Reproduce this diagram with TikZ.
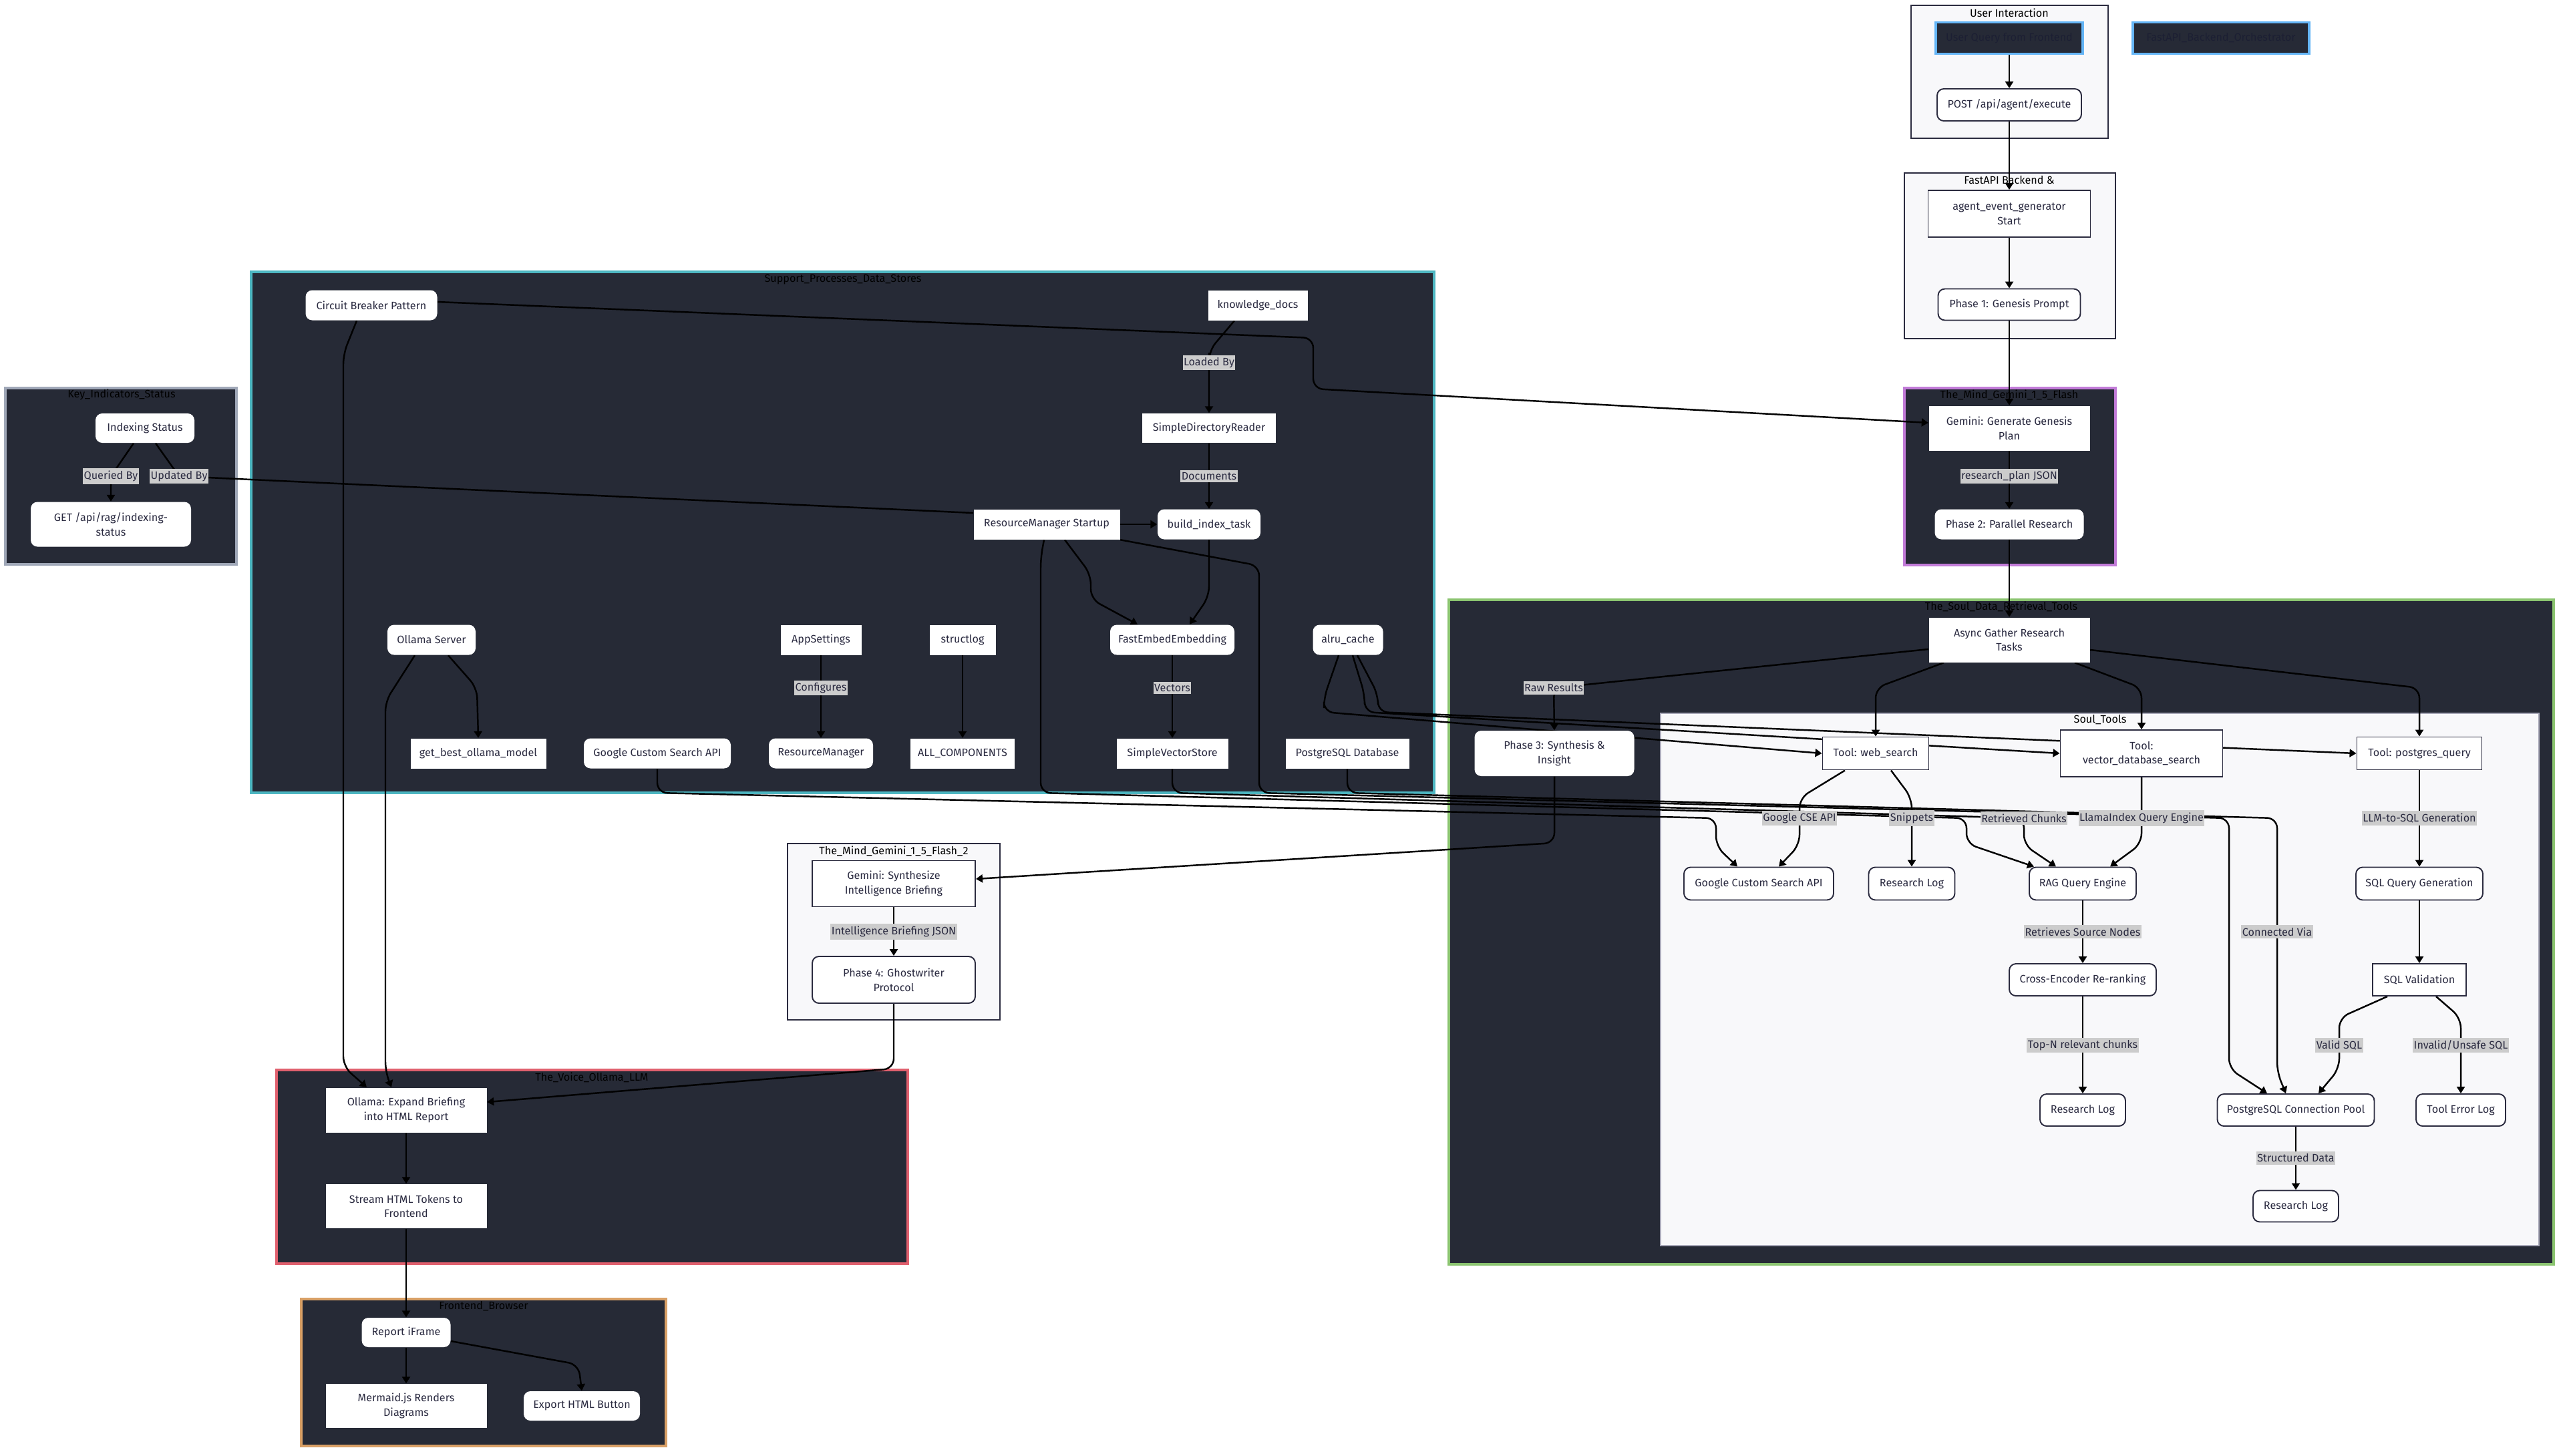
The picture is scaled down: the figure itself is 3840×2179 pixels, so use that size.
\documentclass[tikz,border=0pt]{standalone}
\usepackage{fontspec}
\setmainfont{Fira Sans}
\usetikzlibrary{arrows.meta}
\definecolor{darkbg}{HTML}{262A36}
\definecolor{lightbg}{HTML}{F8F8FA}
\definecolor{clborder}{HTML}{2B2B3F}
\definecolor{nodetext}{HTML}{2A2A40}
\definecolor{lblbg}{HTML}{CCCCCC}
\definecolor{tealb}{HTML}{4DB6C1}
\definecolor{purpleb}{HTML}{C27BD8}
\definecolor{greenb}{HTML}{8BC470}
\definecolor{redb}{HTML}{E0606E}
\definecolor{orangeb}{HTML}{D9A066}
\definecolor{grayb}{HTML}{A0A8B8}
\definecolor{blueb}{HTML}{64B5F6}
\definecolor{stborder}{HTML}{A8A8B8}
\definecolor{hiddentext}{HTML}{1C1F33}
\newcommand\nf{\fontsize{4.6}{6.2}\selectfont}
\pgfdeclarelayer{bg}
\pgfdeclarelayer{edges}
\pgfsetlayers{bg,edges,main}
\tikzset{
 nd/.style={font=\nf, text=nodetext, align=center, inner sep=0pt, fill=white, rectangle},
 sq/.style={nd},
 rd/.style={nd, rounded corners=1mm},
 bd/.style={draw=clborder, line width=0.55pt},
 lbl/.style={font=\nf, text=nodetext, fill=lblbg, inner xsep=0.15mm, inner ysep=0.35mm},
 edge/.style={draw=black, line width=0.7pt, rounded corners=1.5mm},
 arr/.style={edge, -{Triangle[length=1mm,width=1.2mm]}},
 ctitle/.style={font=\nf, text=black, inner sep=0pt},
 darkcl/.style={fill=darkbg, line width=0.9pt},
 lightcl/.style={fill=lightbg, draw=clborder, line width=0.6pt},
}
\begin{document}
\begin{tikzpicture}[x=0.1mm,y=-0.1mm]
\useasboundingbox (0,0) rectangle (3840,2179);
\begin{pgfonlayer}{bg}
\fill[white] (0,0) rectangle (3840,2179);
% clusters
\draw[lightcl] (2861,8) rectangle (3156,207);
\node[ctitle] (tUI) at (3008,19) {User Interaction};
\draw[lightcl] (2851,259) rectangle (3167,507);
\node[ctitle] (tFA) at (3008,270) {FastAPI Backend \&};
\draw[darkcl, draw=purpleb] (2851,581) rectangle (3167,846);
\node[ctitle] (tMind) at (3008,591) {The\_Mind\_Gemini\_1\_5\_Flash};
\draw[darkcl, draw=grayb] (8,581) rectangle (354,845);
\node[ctitle] (tKI) at (182,591) {Key\_Indicators\_Status};
\draw[darkcl, draw=tealb] (376,407) rectangle (2147,1187);
\node[ctitle] (tSup) at (1262,419) {Support\_Processes\_Data\_Stores};
\draw[darkcl, draw=greenb] (2169,898) rectangle (3823,1893);
\node[ctitle] (tSoul) at (2996,908) {The\_Soul\_Data\_Retrieval\_Tools};
\draw[fill=lightbg, draw=stborder, line width=0.6pt] (2486,1068) rectangle (3801,1865);
\node[ctitle] (tST) at (3144,1078) {Soul\_Tools};
\draw[lightcl] (1179,1263) rectangle (1497,1527);
\node[ctitle] (tMind2) at (1338,1274) {The\_Mind\_Gemini\_1\_5\_Flash\_2};
\draw[darkcl, draw=redb] (414,1602) rectangle (1359,1892);
\node[ctitle] (tVoice) at (886,1613) {The\_Voice\_Ollama\_LLM};
\draw[darkcl, draw=orangeb] (451,1945) rectangle (997,2165);
\node[ctitle] (tFE) at (724,1956) {Frontend\_Browser};
\end{pgfonlayer}

% ---- nodes: top column
\node[nd, fill=darkbg, draw=blueb, line width=0.9pt, text=hiddentext, minimum width=22mm, minimum height=4.7mm] (uq) at (3008,57) {User Query from Frontend};
\node[nd, fill=darkbg, draw=blueb, line width=0.9pt, text=hiddentext, minimum width=26.4mm, minimum height=4.7mm] (fo) at (3325,57) {FastAPI\_Backend\_Orchestrator};
\node[rd, bd, minimum width=21.6mm, minimum height=4.8mm] (post) at (3008,157) {POST /api/agent/execute};
\node[sq, bd, minimum width=24.3mm, minimum height=7mm] (agent) at (3008,320) {agent\_event\_generator\\Start};
\node[rd, bd, minimum width=21.3mm, minimum height=4.7mm] (p1) at (3008,456) {Phase 1: Genesis Prompt};
\node[sq, minimum width=24.1mm, minimum height=6.7mm] (ggen) at (3008,641) {Gemini: Generate Genesis\\Plan};
\node[rd, minimum width=22.3mm, minimum height=4.5mm] (p2) at (3008,785) {Phase 2: Parallel Research};
\node[sq, minimum width=24.1mm, minimum height=6.7mm] (async) at (3008,958) {Async Gather Research\\Tasks};
\node[rd, minimum width=23.9mm, minimum height=6.8mm] (p3) at (2327,1128) {Phase 3: Synthesis \&\\Insight};
% soul tools
\node[sq, bd, minimum width=15.9mm, minimum height=4.9mm] (web) at (2808,1128) {Tool: web\_search};
\node[sq, bd, minimum width=24.3mm, minimum height=7mm] (vec) at (3206,1128) {Tool:\\vector\_database\_search};
\node[sq, bd, minimum width=18.7mm, minimum height=4.9mm] (pgq) at (3622,1128) {Tool: postgres\_query};
\node[rd, bd, minimum width=22.4mm, minimum height=4.9mm] (gcs2) at (2633,1323) {Google Custom Search API};
\node[rd, bd, minimum width=12.9mm, minimum height=4.9mm] (rl1) at (2862,1323) {Research Log};
\node[rd, bd, minimum width=16mm, minimum height=4.9mm] (rag) at (3118,1323) {RAG Query Engine};
\node[rd, bd, minimum width=19mm, minimum height=4.9mm] (sqlg) at (3622,1323) {SQL Query Generation};
\node[rd, bd, minimum width=22mm, minimum height=4.8mm] (ce) at (3118,1467) {Cross-Encoder Re-ranking};
\node[sq, bd, minimum width=14mm, minimum height=4.8mm] (sqlv) at (3622,1467) {SQL Validation};
\node[rd, bd, minimum width=12.8mm, minimum height=4.8mm] (rl2) at (3118,1662) {Research Log};
\node[rd, bd, minimum width=23.5mm, minimum height=4.8mm] (pool) at (3437,1662) {PostgreSQL Connection Pool};
\node[rd, bd, minimum width=13.4mm, minimum height=4.8mm] (tel) at (3684,1662) {Tool Error Log};
\node[rd, bd, minimum width=12.8mm, minimum height=4.7mm] (rl3) at (3437,1806) {Research Log};
% support
\node[rd, minimum width=19.7mm, minimum height=4.5mm] (cb) at (556,457) {Circuit Breaker Pattern};
\node[sq, minimum width=14.9mm, minimum height=4.5mm] (kd) at (1883,457) {knowledge\_docs};
\node[sq, minimum width=20mm, minimum height=4.4mm] (sdr) at (1810,641) {SimpleDirectoryReader};
\node[rd, minimum width=15.4mm, minimum height=4.5mm] (bit) at (1810,785) {build\_index\_task};
\node[sq, minimum width=21.9mm, minimum height=4.5mm] (rms) at (1567,785) {ResourceManager Startup};
\node[rd, minimum width=13.2mm, minimum height=4.5mm] (os) at (646,958) {Ollama Server};
\node[sq, minimum width=12.1mm, minimum height=4.5mm] (app) at (1229,958) {AppSettings};
\node[sq, minimum width=9.9mm, minimum height=4.5mm] (sl) at (1441,958) {structlog};
\node[rd, minimum width=18.6mm, minimum height=4.5mm] (fe) at (1755,958) {FastEmbedEmbedding};
\node[rd, minimum width=10.5mm, minimum height=4.5mm] (alru) at (2018,958) {alru\_cache};
\node[sq, minimum width=20.3mm, minimum height=4.5mm] (gbo) at (716,1128) {get\_best\_ollama\_model};
\node[rd, minimum width=22mm, minimum height=4.5mm] (gcs1) at (984,1128) {Google Custom Search API};
\node[rd, minimum width=15.6mm, minimum height=4.5mm] (rm) at (1229,1128) {ResourceManager};
\node[sq, minimum width=15.6mm, minimum height=4.5mm] (allc) at (1441,1128) {ALL\_COMPONENTS};
\node[sq, minimum width=16.7mm, minimum height=4.5mm] (svs) at (1755,1128) {SimpleVectorStore};
\node[sq, minimum width=18.5mm, minimum height=4.5mm] (pgdb) at (2017,1128) {PostgreSQL Database};
% key indicators
\node[rd, minimum width=14.8mm, minimum height=4.4mm] (is) at (217,641) {Indexing Status};
\node[rd, minimum width=24mm, minimum height=6.7mm] (get) at (166,785) {GET /api/rag/indexing-\\status};
% mind 2
\node[sq, bd, minimum width=24.4mm, minimum height=6.9mm] (gsyn) at (1338,1323) {Gemini: Synthesize\\Intelligence Briefing};
\node[rd, bd, minimum width=24.4mm, minimum height=7mm] (p4) at (1338,1467) {Phase 4: Ghostwriter\\Protocol};
% voice
\node[sq, minimum width=24.1mm, minimum height=6.7mm] (oe) at (608,1662) {Ollama: Expand Briefing\\into HTML Report};
\node[sq, minimum width=24.1mm, minimum height=6.6mm] (sht) at (608,1806) {Stream HTML Tokens to\\Frontend};
% frontend
\node[rd, minimum width=13.3mm, minimum height=4.4mm] (rif) at (608,1995) {Report iFrame};
\node[sq, minimum width=24.1mm, minimum height=6.6mm] (mjs) at (608,2105) {Mermaid.js Renders\\Diagrams};
\node[rd, minimum width=17.4mm, minimum height=4.4mm] (exp) at (871,2105) {Export HTML Button};

% ---- edge labels
\node[lbl] (l_rp) at (3008,713) {research\_plan JSON};
\node[lbl] (l_qb) at (166,713) {Queried By};
\node[lbl] (l_ub) at (268,713) {Updated By};
\node[lbl] (l_lb) at (1810,543) {Loaded By};
\node[lbl] (l_doc) at (1810,713) {Documents};
\node[lbl] (l_cfg) at (1229,1030) {Configures};
\node[lbl] (l_vec) at (1755,1030) {Vectors};
\node[lbl] (l_raw) at (2326,1030) {Raw Results};
\node[lbl] (l_gcse) at (2694,1225) {Google CSE API};
\node[lbl] (l_snip) at (2862,1225) {Snippets};
\node[lbl] (l_rc) at (3030,1225) {Retrieved Chunks};
\node[lbl] (l_lqe) at (3206,1225) {LlamaIndex Query Engine};
\node[lbl] (l_l2s) at (3622,1225) {LLM-to-SQL Generation};
\node[lbl] (l_rsn) at (3118,1395) {Retrieves Source Nodes};
\node[lbl] (l_cv) at (3409,1395) {Connected Via};
\node[lbl] (l_top) at (3118,1565) {Top-N relevant chunks};
\node[lbl] (l_vs) at (3502,1565) {Valid SQL};
\node[lbl] (l_inv) at (3684,1565) {Invalid/Unsafe SQL};
\node[lbl] (l_sd) at (3437,1734) {Structured Data};
\node[lbl] (l_ibj) at (1338,1395) {Intelligence Briefing JSON};

% ---- edges
\begin{pgfonlayer}{edges}
\draw[arr] (uq.south) -- (post.north);
\draw[arr] (post.south) -- (agent.north);
\draw[arr] (agent.south) -- (p1.north);
\draw[arr] (p1.south) -- (ggen.north);
\draw[arr] (ggen.south) -- (l_rp.center) -- (p2.north);
\draw[arr] (p2.south) -- (async.north);
\draw[arr] ([yshift=-1.4mm]async.west) -- (l_raw.center) -- (p3.north);
\draw[arr] ([xshift=-9.8mm]async.south) -- (2808,1030) -- (web.north);
\draw[arr] ([xshift=9.8mm]async.south) -- (3206,1030) -- (vec.north);
\draw[arr] ([yshift=-1.5mm]async.east) -- (3622,1030) -- (pgq.north);
\draw[arr] ([xshift=-1.4mm]alru.south) -- (1982,1045) -- (1982,1066) -- (web.west);
\draw[arr] ([xshift=0.7mm]alru.south) -- (2043,1040) -- (2043,1066) -- (vec.west);
\draw[arr] ([xshift=1.4mm]alru.south) -- (2063,1040) -- (2063,1066) -- (pgq.west);
\draw[arr] ([xshift=-4.6mm]web.south) -- (2694,1195) -- (l_gcse.center) -- (2694,1265) -- ([xshift=3mm]gcs2.north);
\draw[arr] ([xshift=2.3mm]web.south) -- (2862,1195) -- (l_snip.center) -- (rl1.north);
\draw[arr] (gcs1.south) -- (984,1187) -- (2569,1225) -- (2569,1267) -- ([xshift=-3.2mm]gcs2.north);
\draw[arr] ([xshift=-0.4mm]rms.south) -- (1558,835) -- (1558,1187) -- (2944,1225) -- (2944,1263) -- ([xshift=-7.3mm]rag.north);
\draw[arr] (svs.south) -- (1755,1187) -- (l_rc.center) -- (3030,1265) -- ([xshift=-4mm]rag.north);
\draw[arr] (vec.south) -- (l_lqe.center) -- (3206,1263) -- ([xshift=4.1mm]rag.north);
\draw[arr] (rms.south east) -- (1885,847) -- (1885,1187) -- (3337,1225) -- (3337,1600) -- ([xshift=-4.3mm]pool.north);
\draw[arr] (pgdb.south) -- (2017,1187) -- (3409,1225) -- (l_cv.center) -- (3409,1605) -- ([xshift=-1.5mm]pool.north);
\draw[arr] (rag.south) -- (l_rsn.center) -- (ce.north);
\draw[arr] (ce.south) -- (l_top.center) -- (rl2.north);
\draw[arr] (pgq.south) -- (l_l2s.center) -- (sqlg.north);
\draw[arr] (sqlg.south) -- (sqlv.north);
\draw[arr] ([xshift=-4.8mm]sqlv.south) -- (3502,1524) -- (l_vs.center) -- (3502,1600) -- ([xshift=3.4mm]pool.north);
\draw[arr] ([xshift=2.5mm]sqlv.south) -- (3684,1524) -- (l_inv.center) -- (tel.north);
\draw[arr] (pool.south) -- (l_sd.center) -- (rl3.north);
\draw[arr] (p3.south) -- (2327,1262) -- ([yshift=0.7mm]gsyn.east);
\draw[arr] (gsyn.south) -- (l_ibj.center) -- (p4.north);
\draw[arr] (p4.south) -- (1338,1600) -- ([yshift=1.2mm]oe.east);
\draw[arr] ([xshift=-2.2mm]cb.south) -- (514,530) -- (514,1597) -- ([xshift=-5.9mm]oe.north);
\draw[arr] ([xshift=-2.5mm]os.south) -- (577,1050) -- (577,1605) -- ([xshift=-2.2mm]oe.north);
\draw[arr] ([xshift=2.5mm]os.south) -- (714,1030) -- (gbo.north);
\draw[arr] ([yshift=0.5mm]cb.east) -- (1966,506) -- (1966,582) -- ([yshift=0.8mm]ggen.west);
\draw[arr] ([xshift=-1.7mm]is.south) -- (l_qb.center) -- (get.north);
\draw[edge] ([xshift=1.6mm]is.south) -- (l_ub.center) -- ([yshift=1.7mm]rms.west);
\draw[arr] ([xshift=-3.5mm]kd.south) -- (1810,525) -- (l_lb.center) -- (sdr.north);
\draw[arr] (sdr.south) -- (l_doc.center) -- (bit.north);
\draw[arr] (rms.east) -- (bit.west);
\draw[arr] ([xshift=2.7mm]rms.south) -- (1633,860) -- (1633,897) -- ([xshift=-5.2mm]fe.north);
\draw[arr] (bit.south) -- (1810,893) -- ([xshift=2.6mm]fe.north);
\draw[arr] (app.south) -- (l_cfg.center) -- (rm.north);
\draw[arr] (sl.south) -- (allc.north);
\draw[arr] (fe.south) -- (l_vec.center) -- (svs.north);
\draw[arr] (oe.south) -- (sht.north);
\draw[arr] (sht.south) -- (rif.north);
\draw[arr] (rif.south) -- (mjs.north);
\draw[arr] ([yshift=-1.3mm]rif.east) -- (866,2043) -- (exp.north);
\end{pgfonlayer}
\end{tikzpicture}
\end{document}
